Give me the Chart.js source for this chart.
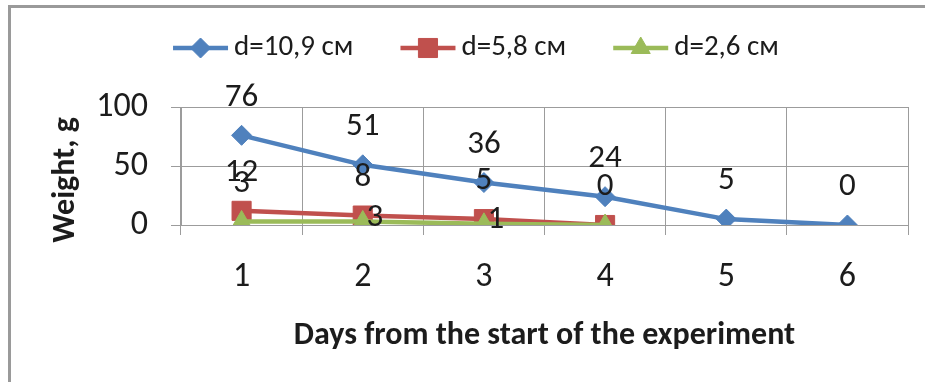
<!DOCTYPE html>
<html>
<head>
<meta charset="utf-8">
<script src="https://cdn.jsdelivr.net/npm/chart.js@4"></script>
<style>
  html, body { margin: 0; padding: 0; background: #fff; }
  #wrap { width: 925px; height: 382px; position: relative; }
</style>
</head>
<body>
<div id="wrap"><canvas id="c" width="925" height="382"></canvas></div>
<script>
// Days of the experiment and remaining weight of each sample
const days = ['1', '2', '3', '4', '5', '6'];
const seriesNames = ['d=10,9 см', 'd=5,8 см', 'd=2,6 см'];
const weightLarge = [76, 51, 36, 24, 5, 0];
const weightMedium = [12, 8, 5, 0];
const weightSmall = [3, 3, 1, 0];
const yTickValues = [0, 50, 100];
const xTitleText = 'Days from the start of the experiment';
const yTitleText = 'Weight, g';

const FONT = 'Carlito, Lato, "Open Sans", sans-serif';
const TEXT = '#1c1c1c';
const GRID = '#9c9c9c';

// Outer frame (left and top edges) on a white background
const frame = {
  id: 'frame',
  beforeDraw(chart) {
    const ctx = chart.ctx;
    ctx.save();
    ctx.fillStyle = '#fff';
    ctx.fillRect(0, 0, chart.width, chart.height);
    ctx.strokeStyle = '#9a9a9a';
    ctx.lineWidth = 3;
    ctx.beginPath();
    ctx.moveTo(9.5, chart.height);
    ctx.lineTo(9.5, 6.5);
    ctx.lineTo(chart.width, 6.5);
    ctx.stroke();
    ctx.restore();
  }
};

// Value labels next to each point
const pointLabels = {
  id: 'pointLabels',
  afterDatasetsDraw(chart, args, opts) {
    const ctx = chart.ctx;
    ctx.save();
    ctx.font = opts.font;
    ctx.fillStyle = opts.color;
    ctx.textAlign = 'center';
    ctx.textBaseline = 'middle';
    chart.data.datasets.forEach((ds, i) => {
      const meta = chart.getDatasetMeta(i);
      meta.data.forEach((pt, j) => {
        const place = ds.labelPlace ? ds.labelPlace[j] : null;
        if (!place) return;
        let x = pt.x, y = pt.y;
        if (place === 'above') {
          y -= opts.above;
        } else if (place === 'right') {
          x += opts.side;
          y -= 4;
        }
        ctx.fillText(String(ds.data[j]), x, y);
      });
    });
    ctx.restore();
  }
};

// Legend with a line segment and marker for each series, plus the vertical axis title
const lineLegend = {
  id: 'lineLegend',
  afterDraw(chart, args, opts) {
    const ctx = chart.ctx;
    const sets = chart.data.datasets;
    ctx.save();
    ctx.font = opts.font;
    const seg = opts.segment, gap = opts.textGap, spacing = opts.spacing;
    const widths = sets.map(ds => seg + gap + ctx.measureText(ds.label).width);
    const total = widths.reduce((a, b) => a + b, 0) + spacing * (sets.length - 1);
    let x = opts.centerX - total / 2;
    const y = opts.y;
    sets.forEach((ds, i) => {
      ctx.strokeStyle = ds.borderColor;
      ctx.lineWidth = ds.borderWidth;
      ctx.beginPath();
      ctx.moveTo(x, y);
      ctx.lineTo(x + seg, y);
      ctx.stroke();
      ctx.fillStyle = ds.backgroundColor;
      ctx.strokeStyle = ds.borderColor;
      ctx.lineWidth = 1;
      Chart.helpers.drawPoint(ctx, {
        pointStyle: ds.pointStyle, radius: ds.pointRadius, rotation: 0, borderWidth: 1
      }, x + seg / 2, y);
      ctx.fillStyle = TEXT;
      ctx.textAlign = 'left';
      ctx.textBaseline = 'middle';
      ctx.fillText(ds.label, x + seg + gap, y);
      x += widths[i] + spacing;
    });

    // vertical axis title
    ctx.font = opts.yTitleFont;
    ctx.fillStyle = TEXT;
    ctx.translate(opts.yTitleX, opts.yTitleY);
    ctx.rotate(-Math.PI / 2);
    ctx.textAlign = 'center';
    ctx.textBaseline = 'middle';
    ctx.fillText(yTitleText, 0, 0);
    ctx.restore();
  }
};

new Chart(document.getElementById('c'), {
  type: 'line',
  data: {
    labels: days,
    datasets: [
      {
        label: seriesNames[0], data: weightLarge,
        borderColor: '#4F81BD', backgroundColor: '#4F81BD',
        borderWidth: 4.5, pointStyle: 'rectRot', pointRadius: 10, pointBorderWidth: 1,
        order: 2,
        labelPlace: ['above', 'above', 'above', 'above', 'above', 'above']
      },
      {
        label: seriesNames[1], data: weightMedium,
        borderColor: '#C0504D', backgroundColor: '#C0504D',
        borderWidth: 4.5, pointStyle: 'rect', pointRadius: 13.5, pointBorderWidth: 1,
        order: 1,
        labelPlace: ['above', 'above', 'above', 'above']
      },
      {
        label: seriesNames[2], data: weightSmall,
        borderColor: '#9BBB59', backgroundColor: '#9BBB59',
        borderWidth: 4.5, pointStyle: 'triangle', pointRadius: 11, pointBorderWidth: 1,
        order: 0,
        labelPlace: ['above', 'right', 'right', null]
      }
    ]
  },
  options: {
    responsive: false,
    animation: false,
    devicePixelRatio: 1,
    layout: { padding: { top: 107, right: 17, left: 0, bottom: 0 } },
    plugins: {
      legend: { display: false },
      tooltip: { enabled: false },
      pointLabels: { font: '33px ' + FONT, color: TEXT, above: 38, side: 12 },
      lineLegend: {
        font: '29px ' + FONT, segment: 55, textGap: 6, spacing: 47,
        centerX: 476, y: 48,
        yTitleFont: 'bold 32px ' + FONT, yTitleX: 66, yTitleY: 180
      }
    },
    scales: {
      x: {
        type: 'category',
        offset: true,
        grid: { offset: true, color: GRID, lineWidth: 1, tickLength: 10, drawTicks: true },
        border: { color: GRID, width: 1 },
        ticks: { font: { family: FONT, size: 34 }, color: TEXT, padding: 22, maxRotation: 0 },
        title: {
          display: true, text: xTitleText, color: TEXT,
          font: { family: FONT, size: 32, weight: 'bold' },
          padding: { top: 0, bottom: 27 }
        },
        afterFit(scale) { scale.height = 157; }
      },
      y: {
        min: 0, max: 100,
        grid: { color: GRID, lineWidth: 1, tickLength: 10, drawTicks: true },
        border: { color: GRID, width: 1 },
        ticks: { font: { family: FONT, size: 34 }, color: TEXT, padding: 23 },
        afterBuildTicks(scale) { scale.ticks = yTickValues.map(v => ({ value: v })); },
        afterFit(scale) { scale.width = 181; }
      }
    }
  },
  plugins: [frame, pointLabels, lineLegend]
});
</script>
</body>
</html>
